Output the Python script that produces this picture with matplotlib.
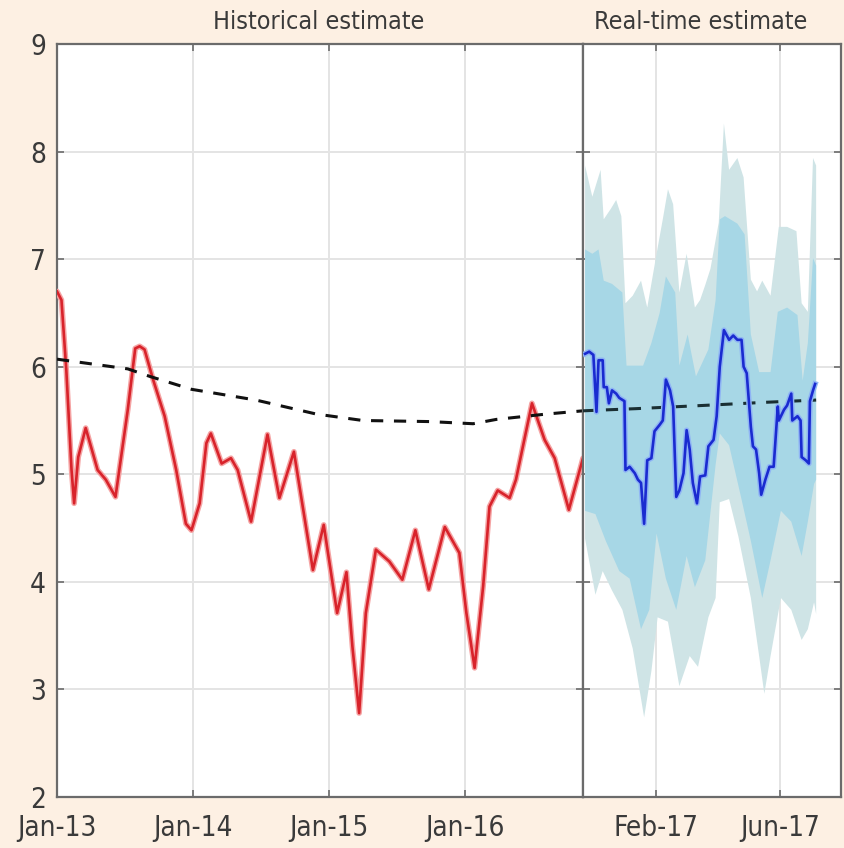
import matplotlib
matplotlib.use("Agg")
import matplotlib.pyplot as plt
import matplotlib.dates as mdates
import numpy as np
import pandas as pd

plt.rcParams['font.family'] = ['DejaVu Sans']
plt.rcParams['font.stretch'] = 'condensed'

# Historical estimate (red).
histDates = ["2013-01-01", "2013-01-13", "2013-01-26", "2013-02-09", "2013-02-16",
	"2013-02-27", "2013-03-19", "2013-04-20", "2013-05-12", "2013-06-07", "2013-07-10",
	"2013-07-30", "2013-08-11", "2013-08-24", "2013-09-16", "2013-10-17", "2013-11-17",
	"2013-12-13", "2013-12-28", "2014-01-19", "2014-02-06",
	"2014-02-18", "2014-03-19", "2014-04-13", "2014-05-01", "2014-06-06", "2014-07-20",
	"2014-08-21", "2014-09-29", "2014-11-19", "2014-12-18", "2015-01-23", "2015-02-17",
	"2015-03-05", "2015-03-23", "2015-04-10", "2015-05-07", "2015-06-12", "2015-07-17",
	"2015-08-21", "2015-09-26", "2015-11-08", "2015-12-17", "2016-01-05", "2016-01-27",
	"2016-02-19", "2016-03-07", "2016-03-29", "2016-04-30",
	"2016-05-17", "2016-06-29", "2016-08-02", "2016-08-29", "2016-10-06", "2016-11-13"]
histValues = [6.70, 6.62, 5.97, 5.04, 4.73,
	5.16, 5.43, 5.04, 4.95, 4.79, 5.60,
	6.17, 6.19, 6.16, 5.88, 5.54, 5.04,
	4.54, 4.48, 4.73, 5.29,
	5.38, 5.10, 5.15, 5.04, 4.56, 5.37,
	4.78, 5.21, 4.11, 4.53, 3.71, 4.09,
	3.40, 2.78, 3.71, 4.30, 4.19, 4.02,
	4.48, 3.93, 4.51, 4.27, 3.71, 3.20,
	3.96, 4.70, 4.85, 4.78,
	4.95, 5.66, 5.32, 5.15, 4.67, 5.15]

# Long-run trend (dashed).
trendDates = ["2013-01-01", "2013-07-10", "2013-09-07", "2013-12-28", "2014-06-19",
	"2014-11-28", "2015-04-02", "2015-09-28", "2016-01-23", "2016-03-25", "2016-08-07",
	"2016-11-13"]
trendValues = [6.07, 5.98, 5.91, 5.79, 5.69, 5.56, 5.50, 5.49, 5.47, 5.51, 5.56, 5.59]
rtTrendDates = ["2016-11-23", "2017-01-13", "2017-03-19", "2017-05-20", "2017-07-06"]
rtTrendValues = [5.59, 5.61, 5.64, 5.67, 5.69]

# Real-time estimate (blue).
rtDates = ["2016-11-25", "2016-11-29", "2016-12-03", "2016-12-06", "2016-12-08",
	"2016-12-12", "2016-12-13", "2016-12-16", "2016-12-18", "2016-12-21", "2016-12-25",
	"2016-12-28", "2017-01-02", "2017-01-03", "2017-01-07", "2017-01-12", "2017-01-15",
	"2017-01-18", "2017-01-21", "2017-01-24", "2017-01-28", "2017-01-31", "2017-02-05",
	"2017-02-08", "2017-02-11", "2017-02-15", "2017-02-18", "2017-02-21", "2017-02-24",
	"2017-02-28", "2017-03-03", "2017-03-06", "2017-03-09", "2017-03-13", "2017-03-16",
	"2017-03-21", "2017-03-24", "2017-03-29", "2017-04-01", "2017-04-04", "2017-04-08",
	"2017-04-13", "2017-04-17", "2017-04-21", "2017-04-25", "2017-04-27", "2017-04-30",
	"2017-05-04", "2017-05-06", "2017-05-09", "2017-05-12", "2017-05-14", "2017-05-18",
	"2017-05-22", "2017-05-26", "2017-05-30", "2017-05-31", "2017-06-05", "2017-06-08",
	"2017-06-12", "2017-06-13", "2017-06-18", "2017-06-21", "2017-06-22", "2017-06-26",
	"2017-06-29", "2017-06-30", "2017-07-03", "2017-07-05"]
rtValues = [6.12, 6.14, 6.11, 5.58, 6.06,
	6.06, 5.81, 5.81, 5.66, 5.78, 5.75,
	5.71, 5.68, 5.04, 5.07, 5.01, 4.95,
	4.92, 4.54, 5.13, 5.15, 5.40, 5.46,
	5.50, 5.88, 5.78, 5.63, 4.79, 4.85,
	5.01, 5.41, 5.23, 4.92, 4.73, 4.98,
	4.99, 5.26, 5.32, 5.54, 6.00, 6.34,
	6.25, 6.29, 6.25, 6.25, 6.00, 5.94,
	5.44, 5.26, 5.23, 5.01, 4.81, 4.95,
	5.07, 5.07, 5.63, 5.50, 5.60, 5.64,
	5.75, 5.50, 5.54, 5.50, 5.16, 5.13,
	5.10, 5.68, 5.78, 5.84]

# Outer band (pale) upper/lower edges.
outerUpDates = ["2016-11-25", "2016-12-02", "2016-12-10", "2016-12-13", "2016-12-20",
	"2016-12-25", "2016-12-30", "2017-01-03", "2017-01-10", "2017-01-18", "2017-01-24",
	"2017-02-02", "2017-02-08", "2017-02-13", "2017-02-18", "2017-02-24", "2017-03-03",
	"2017-03-11", "2017-03-16", "2017-03-21", "2017-03-26", "2017-04-03", "2017-04-08",
	"2017-04-13", "2017-04-21", "2017-04-27", "2017-05-04", "2017-05-10", "2017-05-15",
	"2017-05-23", "2017-05-31", "2017-06-08", "2017-06-17", "2017-06-22", "2017-06-28",
	"2017-07-03", "2017-07-06"]
outerUpValues = [7.87, 7.58, 7.83, 7.37, 7.47,
	7.55, 7.40, 6.59, 6.66, 6.80, 6.55,
	7.05, 7.37, 7.65, 7.51, 6.69, 7.05,
	6.55, 6.62, 6.76, 6.91, 7.34, 8.26,
	7.83, 7.94, 7.76, 6.81, 6.70, 6.80,
	6.66, 7.30, 7.30, 7.26, 6.59, 6.51,
	7.94, 7.87]
outerLoDates = ["2016-11-25", "2016-12-05", "2016-12-12", "2016-12-21", "2016-12-31",
	"2017-01-10", "2017-01-21", "2017-01-28", "2017-02-03", "2017-02-13", "2017-02-24",
	"2017-03-06", "2017-03-14", "2017-03-24", "2017-03-31", "2017-04-04", "2017-04-13",
	"2017-04-22", "2017-05-04", "2017-05-12", "2017-05-17", "2017-05-23", "2017-06-02",
	"2017-06-12", "2017-06-22", "2017-06-28", "2017-07-04", "2017-07-06"]
outerLoValues = [4.40, 3.88, 4.10, 3.92, 3.74,
	3.38, 2.74, 3.17, 3.67, 3.63, 3.03,
	3.31, 3.21, 3.67, 3.85, 4.74, 4.77,
	4.42, 3.85, 3.31, 2.96, 3.31, 3.85,
	3.74, 3.46, 3.56, 3.81, 3.70]

# Inner band (blue) upper/lower edges.
innerUpDates = ["2016-11-25", "2016-12-02", "2016-12-08", "2016-12-13", "2016-12-21",
	"2016-12-31", "2017-01-04", "2017-01-20", "2017-01-28", "2017-02-05", "2017-02-11",
	"2017-02-20", "2017-02-24", "2017-03-04", "2017-03-12", "2017-03-24", "2017-03-31",
	"2017-04-04", "2017-04-09", "2017-04-21", "2017-04-28", "2017-05-04", "2017-05-12",
	"2017-05-23", "2017-05-30", "2017-06-08", "2017-06-18", "2017-06-23", "2017-06-28",
	"2017-07-03", "2017-07-06"]
innerUpValues = [7.09, 7.05, 7.09, 6.80, 6.77,
	6.69, 6.01, 6.01, 6.22, 6.50, 6.84,
	6.69, 6.01, 6.30, 5.91, 6.16, 6.62,
	7.37, 7.40, 7.33, 7.23, 6.30, 5.95,
	5.95, 6.51, 6.55, 6.48, 5.87, 6.22,
	7.01, 6.94]
innerLoDates = ["2016-11-25", "2016-12-05", "2016-12-15", "2016-12-28", "2017-01-07",
	"2017-01-18", "2017-01-26", "2017-02-02", "2017-02-11", "2017-02-21", "2017-03-03",
	"2017-03-11", "2017-03-21", "2017-03-31", "2017-04-04", "2017-04-13", "2017-04-24",
	"2017-05-04", "2017-05-15", "2017-05-23", "2017-06-02", "2017-06-12", "2017-06-22",
	"2017-06-28", "2017-07-04", "2017-07-06"]
innerLoValues = [4.66, 4.63, 4.38, 4.10, 4.03,
	3.56, 3.74, 4.45, 4.03, 3.74, 4.24,
	3.95, 4.20, 5.09, 5.38, 5.27, 4.81,
	4.38, 3.85, 4.20, 4.66, 4.56, 4.24,
	4.56, 4.91, 4.95]

histTicks = ["2013-01-01", "2014-01-01", "2015-01-01", "2016-01-01"]
rtTicks = ["2017-02-01", "2017-06-01"]
yTicks = [2, 3, 4, 5, 6, 7, 8, 9]

bgColor = "#fdf0e3"
frameColor = "#6b6b6b"
textColor = "#3a3a3a"
gridColor = "#e4e4e4"


def d(lst):
	return pd.to_datetime(lst)


def styleAxis(ax):
	for s in ax.spines.values():
		s.set_color(frameColor)
		s.set_linewidth(1.6)
	ax.set_ylim(2, 9)
	ax.set_yticks(yTicks)
	ax.grid(True, color=gridColor, linewidth=1.4)
	ax.set_axisbelow(True)
	ax.tick_params(direction="in", top=True, right=True, length=5, width=1.2,
		color=frameColor, labelcolor=textColor, labelsize=20)
	ax.tick_params(axis="x", pad=12)
	ax.tick_params(axis="y", pad=8)
	ax.xaxis.set_major_formatter(mdates.DateFormatter("%b-%y"))


fig = plt.figure(figsize=(8.44, 8.48), dpi=100)
fig.patch.set_facecolor(bgColor)

bottom = 1 - 797 / 848.0
top = 1 - 44 / 848.0
axL = fig.add_axes([57 / 844.0, bottom, (583 - 57) / 844.0, top - bottom])
axR = fig.add_axes([583 / 844.0, bottom, (841 - 583) / 844.0, top - bottom])

# Left panel.
styleAxis(axL)
axL.set_xlim(pd.Timestamp("2013-01-01"), pd.Timestamp("2016-11-13"))
axL.set_xticks(d(histTicks))
axL.plot(d(histDates), histValues, color="#f5a3a3", linewidth=4.0, solid_capstyle="round", zorder=3)
axL.plot(d(histDates), histValues, color="#d8232b", linewidth=1.9, zorder=4)
axL.plot(d(trendDates), trendValues, color="#111111", linewidth=2.2, linestyle=(0, (4, 3.5)), zorder=5)

# Right panel.
styleAxis(axR)
axR.set_xlim(pd.Timestamp("2016-11-23"), pd.Timestamp("2017-07-30"))
axR.set_xticks(d(rtTicks))
axR.tick_params(axis="y", labelleft=False)
axR.fill(np.concatenate([d(outerUpDates), d(outerLoDates)[::-1]]),
	np.concatenate([outerUpValues, outerLoValues[::-1]]),
	color="#cfe4e6", linewidth=0, zorder=2)
axR.fill(np.concatenate([d(innerUpDates), d(innerLoDates)[::-1]]),
	np.concatenate([innerUpValues, innerLoValues[::-1]]),
	color="#a7d7e6", linewidth=0, zorder=3)
axR.plot(d(rtTrendDates), rtTrendValues, color="#1a2f33", linewidth=2.2, linestyle=(0, (4, 3.5)), zorder=4)
axR.plot(d(rtDates), rtValues, color="#8fb4f5", linewidth=4.0, zorder=5)
axR.plot(d(rtDates), rtValues, color="#1a2bd0", linewidth=1.9, zorder=6)

fig.text(319 / 844.0, 1 - 22 / 848.0, "Historical estimate", ha="center", va="center",
	fontsize=18, color=textColor)
fig.text(701 / 844.0, 1 - 22 / 848.0, "Real-time estimate", ha="center", va="center",
	fontsize=18, color=textColor)

fig.savefig("out.png", dpi=100, facecolor=bgColor)
